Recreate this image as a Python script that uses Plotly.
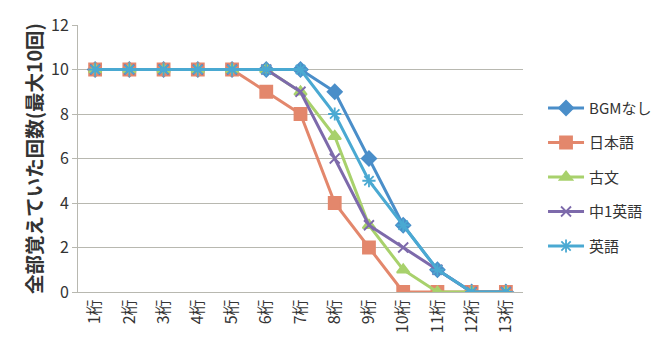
import plotly.graph_objects as go

categories = ["1桁", "2桁", "3桁", "4桁", "5桁", "6桁", "7桁", "8桁", "9桁", "10桁", "11桁", "12桁", "13桁"]
bgm_none = [10, 10, 10, 10, 10, 10, 10, 9, 6, 3, 1, 0, 0]
japanese = [10, 10, 10, 10, 10, 9, 8, 4, 2, 0, 0, 0, 0]
kobun = [10, 10, 10, 10, 10, 10, 9, 7, 3, 1, 0, 0, 0]
chu1_english = [10, 10, 10, 10, 10, 10, 9, 6, 3, 2, 1, 0, 0]
english = [10, 10, 10, 10, 10, 10, 10, 8, 5, 3, 1, 0, 0]

series = [
    ("BGMなし", bgm_none, "#4a8ec9", "diamond", 11),
    ("日本語", japanese, "#e3876c", "square", 12),
    ("古文", kobun, "#a8d16c", "triangle-up", 11),
    ("中1英語", chu1_english, "#7d6aab", "x-thin", 10),
    ("英語", english, "#4aa9d2", "asterisk", 11),
]

font_family = "Noto Sans CJK JP, Noto Sans, sans-serif"

fig = go.Figure()
for i, (name, values, color, symbol, size) in enumerate(series):
    fig.add_trace(go.Scatter(
        x=categories, y=values, name=name, mode="lines+markers",
        legendgroup=str(i),
        line=dict(color=color, width=3),
        marker=dict(symbol=symbol, size=size, color=color,
                    line=dict(color=color, width=1.8)),
    ))

fig.update_layout(
    width=669, height=345,
    margin=dict(l=78, r=139, t=20, b=52),
    paper_bgcolor="white", plot_bgcolor="white",
    font=dict(family=font_family, color="#333333", size=13),
    legend=dict(x=1.045, y=0.75, xanchor="left", yanchor="top",
                font=dict(size=15, color="#333333"),
                tracegroupgap=12, itemwidth=36),
    showlegend=True,
)
fig.update_yaxes(
    range=[0, 12], dtick=2, showgrid=True, gridcolor="#b8b8b0", gridwidth=1,
    showline=True, linecolor="#b8b8b0", ticks="outside", ticklen=5,
    tickcolor="#b8b8b0", tickfont=dict(size=16, color="#333333"),
    zeroline=False,
    title=dict(text="全部覚えていた回数(最大10回)", standoff=3,
               font=dict(size=19.5, color="#333333", weight="bold")),
)
fig.update_xaxes(
    showgrid=False, showline=True, linecolor="#b8b8b0", ticks="",
    tickangle=-90, tickfont=dict(size=16, color="#333333"),
    range=[-0.5, 12.5],
)

fig.write_html("out.html")
